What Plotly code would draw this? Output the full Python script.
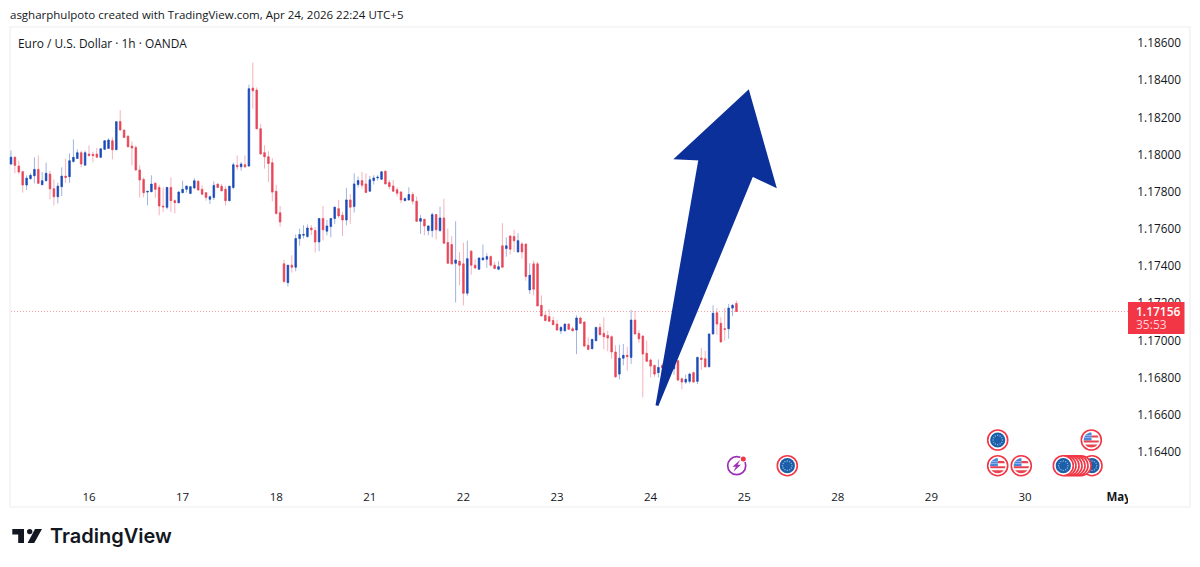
import math
import plotly.graph_objects as go

# Bars (EUR/USD, 1h, OANDA)
direction = ("BRRRBBBRBB" "RRBBRBBBRB" "RRRBBBRBRR" "RRRRRBBRRR" "BRRBBBBBRR"
             "RBBRRRBBRB" "RBRRRRRRRR" "RBRBBBBRRB" "RBBBRRBRBB" "RRBBBBRRRR"
             "RBBRRBRBBR" "BRRRBRRBRR" "BBBRRBRBRR" "BRRBRRRRRR" "RBBRRBRRRB"
             "BRRRRRBBRB" "RRRRRRBRRB" "BRRBBRBRRB" "BRRRBBR")

highs = [1.18021,1.17992,1.17967,1.17913,1.17888,1.17899,1.17985,1.17995,1.17906,1.17956,
 1.17913,1.17866,1.17848,1.17931,1.17977,1.18006,1.18081,1.18028,1.18021,1.18021,
 1.18049,1.18015,1.18035,1.18031,1.18078,1.18087,1.18092,1.18177,1.18239,1.18132,
 1.18103,1.18071,1.18049,1.17942,1.17877,1.17805,1.17888,1.17852,1.17838,1.17823,
 1.17827,1.17877,1.17759,1.17805,1.17859,1.17834,1.17830,1.17873,1.17863,1.17834,
 1.17798,1.17780,1.17856,1.17845,1.17841,1.17830,1.17830,1.17956,1.17995,1.17960,
 1.17995,1.18376,1.18494,1.18361,1.18164,1.18049,1.18017,1.17981,1.17838,1.17723,
 1.17433,1.17405,1.17458,1.17570,1.17602,1.17620,1.17623,1.17620,1.17609,1.17659,
 1.17724,1.17648,1.17659,1.17720,1.17756,1.17692,1.17821,1.17788,1.17899,1.17882,
 1.17907,1.17899,1.17885,1.17889,1.17889,1.17910,1.17914,1.17864,1.17864,1.17824,
 1.17803,1.17770,1.17824,1.17799,1.17774,1.17674,1.17652,1.17620,1.17688,1.17681,
 1.17720,1.17763,1.17602,1.17562,1.17641,1.17476,1.17527,1.17537,1.17487,1.17437,
 1.17444,1.17516,1.17469,1.17458,1.17423,1.17426,1.17631,1.17555,1.17566,1.17595,
 1.17577,1.17530,1.17519,1.17415,1.17430,1.17423,1.17243,1.17154,1.17168,1.17128,
 1.17110,1.17078,1.17092,1.17092,1.17074,1.17135,1.17128,1.17103,1.17017,1.17006,
 1.17074,1.17092,1.17124,1.17052,1.17027,1.16974,1.16977,1.16981,1.16966,1.17164,
 1.17160,1.17056,1.17027,1.16999,1.16902,1.16870,1.16898,1.16877,1.16859,1.16884,
 1.16895,1.16895,1.16801,1.16816,1.16827,1.16834,1.16913,1.16959,1.16945,1.17038,
 1.17189,1.17174,1.17124,1.17174,1.17196,1.17196,1.17214]

body_tops = [1.17986,1.17985,1.17938,1.17908,1.17873,1.17888,1.17920,1.17920,1.17859,1.17899,
 1.17895,1.17816,1.17830,1.17884,1.17884,1.17967,1.17985,1.18010,1.18010,1.18010,
 1.18003,1.18001,1.18003,1.18031,1.18074,1.18078,1.18074,1.18177,1.18178,1.18132,
 1.18099,1.18046,1.18038,1.17917,1.17866,1.17802,1.17841,1.17845,1.17823,1.17723,
 1.17823,1.17823,1.17752,1.17798,1.17813,1.17830,1.17827,1.17859,1.17856,1.17813,
 1.17795,1.17773,1.17834,1.17841,1.17830,1.17813,1.17830,1.17945,1.17942,1.17949,
 1.17945,1.18354,1.18358,1.18347,1.18139,1.18010,1.17988,1.17956,1.17802,1.17687,
 1.17412,1.17405,1.17405,1.17548,1.17570,1.17570,1.17605,1.17605,1.17591,1.17656,
 1.17656,1.17616,1.17656,1.17717,1.17709,1.17674,1.17756,1.17756,1.17842,1.17860,
 1.17860,1.17842,1.17864,1.17874,1.17878,1.17907,1.17910,1.17849,1.17831,1.17810,
 1.17799,1.17763,1.17785,1.17785,1.17749,1.17656,1.17652,1.17616,1.17677,1.17677,
 1.17659,1.17659,1.17527,1.17516,1.17433,1.17426,1.17412,1.17440,1.17480,1.17405,
 1.17444,1.17444,1.17451,1.17451,1.17405,1.17397,1.17509,1.17509,1.17562,1.17559,
 1.17537,1.17519,1.17519,1.17351,1.17412,1.17412,1.17189,1.17136,1.17128,1.17107,
 1.17088,1.17070,1.17088,1.17088,1.17063,1.17121,1.17121,1.17099,1.16974,1.17006,
 1.17070,1.17070,1.17038,1.17027,1.17020,1.16938,1.16905,1.16920,1.16920,1.17110,
 1.17110,1.17038,1.17024,1.16931,1.16895,1.16866,1.16855,1.16866,1.16855,1.16855,
 1.16873,1.16891,1.16794,1.16791,1.16819,1.16827,1.16909,1.16905,1.16902,1.17035,
 1.17146,1.17149,1.17092,1.17063,1.17174,1.17189,1.17199]

body_bottoms = [1.17949,1.17942,1.17906,1.17836,1.17836,1.17870,1.17886,1.17845,1.17838,1.17859,
 1.17816,1.17773,1.17773,1.17827,1.17877,1.17881,1.17963,1.17979,1.17949,1.17943,
 1.17995,1.17994,1.17986,1.17985,1.18028,1.18033,1.18026,1.18026,1.18132,1.18092,
 1.18042,1.18035,1.17917,1.17863,1.17795,1.17798,1.17800,1.17813,1.17723,1.17719,
 1.17716,1.17752,1.17741,1.17741,1.17795,1.17813,1.17791,1.17820,1.17809,1.17787,
 1.17769,1.17759,1.17769,1.17823,1.17805,1.17752,1.17752,1.17823,1.17934,1.17934,
 1.17934,1.17938,1.18343,1.18139,1.18003,1.17988,1.17952,1.17798,1.17683,1.17637,
 1.17317,1.17311,1.17394,1.17394,1.17548,1.17566,1.17559,1.17595,1.17530,1.17530,
 1.17595,1.17588,1.17613,1.17656,1.17670,1.17648,1.17648,1.17717,1.17720,1.17839,
 1.17835,1.17796,1.17803,1.17860,1.17874,1.17867,1.17842,1.17828,1.17803,1.17792,
 1.17756,1.17752,1.17756,1.17749,1.17641,1.17641,1.17616,1.17591,1.17591,1.17595,
 1.17591,1.17523,1.17415,1.17412,1.17415,1.17405,1.17254,1.17254,1.17405,1.17390,
 1.17383,1.17433,1.17437,1.17405,1.17387,1.17383,1.17394,1.17494,1.17491,1.17537,
 1.17476,1.17476,1.17344,1.17272,1.17276,1.17186,1.17132,1.17107,1.17103,1.17085,
 1.17056,1.17052,1.17052,1.17060,1.17052,1.17056,1.17092,1.16970,1.16952,1.16956,
 1.16999,1.17031,1.17020,1.17013,1.16938,1.16805,1.16819,1.16905,1.16913,1.16909,
 1.17035,1.17009,1.16927,1.16888,1.16862,1.16819,1.16827,1.16852,1.16827,1.16841,
 1.16848,1.16787,1.16776,1.16776,1.16780,1.16776,1.16780,1.16898,1.16859,1.16859,
 1.17035,1.17088,1.16992,1.17060,1.17063,1.17174,1.17156]

lows = [1.17943,1.17899,1.17895,1.17795,1.17809,1.17866,1.17845,1.17841,1.17834,1.17856,
 1.17759,1.17726,1.17737,1.17777,1.17848,1.17848,1.17956,1.17977,1.17931,1.17942,
 1.17988,1.17958,1.17983,1.17981,1.18024,1.18031,1.17974,1.18024,1.18128,1.18089,
 1.18038,1.17942,1.17913,1.17769,1.17769,1.17726,1.17798,1.17766,1.17673,1.17691,
 1.17705,1.17691,1.17683,1.17737,1.17791,1.17795,1.17787,1.17813,1.17805,1.17780,
 1.17752,1.17734,1.17755,1.17820,1.17802,1.17726,1.17748,1.17813,1.17917,1.17913,
 1.17927,1.17934,1.18246,1.18135,1.17999,1.17924,1.17852,1.17748,1.17676,1.17612,
 1.17308,1.17290,1.17365,1.17372,1.17509,1.17548,1.17552,1.17566,1.17473,1.17480,
 1.17537,1.17566,1.17555,1.17627,1.17659,1.17562,1.17620,1.17627,1.17688,1.17824,
 1.17817,1.17792,1.17799,1.17839,1.17860,1.17864,1.17839,1.17813,1.17799,1.17774,
 1.17738,1.17749,1.17752,1.17731,1.17638,1.17573,1.17566,1.17566,1.17555,1.17544,
 1.17584,1.17519,1.17412,1.17408,1.17204,1.17297,1.17189,1.17240,1.17354,1.17383,
 1.17380,1.17433,1.17390,1.17397,1.17383,1.17380,1.17390,1.17451,1.17462,1.17476,
 1.17473,1.17440,1.17322,1.17250,1.17243,1.17182,1.17128,1.17103,1.17100,1.17082,
 1.17052,1.17035,1.17049,1.17056,1.17049,1.16927,1.17088,1.16963,1.16948,1.16952,
 1.16995,1.17027,1.16952,1.16941,1.16902,1.16798,1.16791,1.16866,1.16837,1.16873,
 1.17031,1.16988,1.16694,1.16884,1.16801,1.16805,1.16801,1.16823,1.16816,1.16805,
 1.16816,1.16780,1.16737,1.16766,1.16769,1.16773,1.16766,1.16841,1.16852,1.16855,
 1.17031,1.17031,1.16988,1.16999,1.17009,1.17131,1.17153]

assert len(direction) == len(highs) == len(lows) == len(body_tops) == len(body_bottoms)

bars = list(range(len(highs)))
opens = [b if d == "B" else t for d, t, b in zip(direction, body_tops, body_bottoms)]
closes = [t if d == "B" else b for d, t, b in zip(direction, body_tops, body_bottoms)]

day_ticks = [20, 44, 68, 92, 116, 140, 164, 188, 212, 236, 260, 284]
day_labels = ["16", "17", "18", "21", "22", "23", "24", "25", "28", "29", "30", "<b>May</b>"]
price_ticks = [1.164, 1.166, 1.168, 1.170, 1.172, 1.174, 1.176, 1.178, 1.180, 1.182, 1.184, 1.186]
last_price = 1.17156

BLUE = "#1c4cb8"
RED = "#e6475a"
TAG = "#f23645"
TEXT = "#131722"
FONT = "Open Sans"

PL, PR, PT, PB = 8, 1128, 27, 484
def X(px): return (px - PL) / (PR - PL)
def Y(py): return (PB - py) / (PB - PT)

shapes = []
def rect(x0, y0, x1, y1, fill, line=None, lw=0, layer="above"):
    shapes.append(dict(type="rect", xref="paper", yref="paper", x0=X(x0), x1=X(x1), y0=Y(y0), y1=Y(y1),
                       fillcolor=fill, line=dict(color=line or fill, width=lw), layer=layer))
def circle(cx, cy, r, fill, line=None, lw=0):
    shapes.append(dict(type="circle", xref="paper", yref="paper", x0=X(cx - r), x1=X(cx + r), y0=Y(cy - r), y1=Y(cy + r),
                       fillcolor=fill, line=dict(color=line or fill, width=lw), layer="above"))
def poly(points, fill, line=None, lw=0):
    d = "M " + " L ".join(f"{X(a):.5f},{Y(b):.5f}" for a, b in points) + " Z"
    shapes.append(dict(type="path", xref="paper", yref="paper", path=d, fillcolor=fill,
                       line=dict(color=line or fill, width=lw), layer="above"))

def band(cx, cy, r, y1, y2, x_from=None, x_to=None):
    """Part of a disc between two heights, as a polygon."""
    pts_r, pts_l = [], []
    n = 5
    for k in range(n + 1):
        y = y1 + (y2 - y1) * k / n
        w = math.sqrt(max(r * r - y * y, 0))
        a = -w if x_from is None else max(-w, x_from)
        b = w if x_to is None else min(w, x_to)
        pts_l.append((cx + a, cy + y))
        pts_r.append((cx + b, cy + y))
    return pts_l + pts_r[::-1]

def eu_icon(cx, cy):
    circle(cx, cy, 10, "#ffffff", TAG, 1.6)
    circle(cx, cy, 7.6, "#1c5ea8")
    for k in range(12):
        a = k * math.pi / 6
        circle(cx + 4.7 * math.cos(a), cy + 4.7 * math.sin(a), 0.7, "#8dbbe6")

def us_icon(cx, cy):
    circle(cx, cy, 10, "#ffffff", TAG, 1.6)
    poly(band(cx, cy, 7.6, -7.4, 0.6, None, 0.2), "#4a86dc")
    for off in (-4.5, -2.5):
        poly(band(cx, cy, 7.6, off, off + 0.5, -7, 0.2), "#cfe0f7")
    poly(band(cx, cy, 7.6, -4.6, -2.4, 0.2, None), "#e8434f")
    poly(band(cx, cy, 7.6, 0.6, 2.6), "#e8434f")
    poly(band(cx, cy, 7.6, 4.6, 7.6), "#e8434f")

def bolt_icon(cx, cy):
    circle(cx, cy, 9, "#ffffff", "#9c2fb5", 1.7)
    poly([(cx + 3.6, cy - 6), (cx - 4.2, cy + 1), (cx - 0.8, cy + 1), (cx - 3.4, cy + 6),
          (cx + 4.2, cy - 1), (cx + 0.8, cy - 1)], "#9c2fb5")
    circle(cx + 6.6, cy - 6.6, 3.4, "#ffffff")
    circle(cx + 6.6, cy - 6.6, 2.5, TAG)

# panel frame and last-price line
rect(10, 27, 1190, 507, "rgba(0,0,0,0)", "#eceef2", 1.2, layer="below")
shapes.append(dict(type="line", xref="paper", yref="y", x0=X(11), x1=X(1128), y0=last_price, y1=last_price,
                   line=dict(color="#f6a0a8", width=1, dash="1px,2px"), layer="below"))

# hand-drawn arrow
poly([(748, 92), (677, 158), (700, 159), (657, 405.5), (752, 175), (774.5, 185.5)], "#0c3099", "#0c3099", 3)

# event icons
bolt_icon(736.7, 465.7)
eu_icon(787.3, 465.7)
eu_icon(997.7, 440)
us_icon(1091.3, 440)
us_icon(997.7, 465.7)
us_icon(1021.3, 465.7)
eu_icon(1092, 465.7)
for cx in (1081, 1078, 1075, 1072, 1069, 1066):
    us_icon(cx, 465.7)
eu_icon(1063.3, 465.7)

# price tag, clip for May
rect(1128, 484, 1136, 506, "#ffffff")
rect(1128, 302, 1184.5, 334, TAG)

# logo
poly([(12.3, 529), (24, 529), (24, 543), (18.2, 543), (18.2, 534.4), (12.3, 534.4)], "#131722")
circle(29.7, 531.6, 2.7, "#131722")
poly([(35, 529), (42, 529), (34.2, 543), (27.6, 543)], "#131722")

def label(px, py, text, size, color=TEXT, weight=None, family=FONT, anchor="left"):
    f = dict(family=family, size=size, color=color)
    if weight:
        f["weight"] = weight
    return dict(xref="paper", yref="paper", x=X(px), y=Y(py), text=text, showarrow=False,
                xanchor=anchor, yanchor="middle", font=f, borderpad=0, borderwidth=0)

annotations = [
    label(10, 15, "asgharphulpoto created with TradingView.com, Apr 24, 2026 22:24 UTC+5", 11.5),
    label(18, 42.5, "Euro / U.S. Dollar · 1h · OANDA", 11.9),
    label(1136, 311.5, "1.17156", 12, "#ffffff", 600),
    label(1136, 325, "35:53", 12, "#ffd0d5"),
    label(49.5, 536, "TradingView", 20, "#131722", 600, "Inter"),
]

fig = go.Figure()
fig.add_trace(go.Candlestick(
    x=bars, open=opens, high=highs, low=lows, close=closes, name="wicks",
    increasing=dict(line=dict(color="rgba(28,76,184,0.42)", width=1), fillcolor="rgba(28,76,184,0.42)"),
    decreasing=dict(line=dict(color="rgba(230,71,90,0.42)", width=1), fillcolor="rgba(230,71,90,0.42)"),
    hoverinfo="skip",
))
fig.add_trace(go.Candlestick(
    x=bars, open=opens, high=body_tops, low=body_bottoms, close=closes, name="bodies",
    increasing=dict(line=dict(color=BLUE, width=0.3), fillcolor=BLUE),
    decreasing=dict(line=dict(color=RED, width=0.3), fillcolor=RED),
    hoverinfo="skip",
))

fig.update_layout(
    width=1200, height=567, autosize=False,
    margin=dict(l=PL, r=1200 - PR, t=PT, b=567 - PB, pad=0),
    paper_bgcolor="#ffffff", plot_bgcolor="#ffffff",
    showlegend=False, hovermode=False, boxgap=0.4,
    font=dict(family=FONT, size=12, color=TEXT),
    shapes=shapes, annotations=annotations,
    xaxis=dict(range=[-0.77, 286.4], rangeslider=dict(visible=False), showgrid=False, zeroline=False,
               showline=False, tickmode="array", tickvals=day_ticks, ticktext=day_labels,
               ticks="outside", ticklen=2, tickcolor="rgba(0,0,0,0)", tickfont=dict(family=FONT, size=11.5, color=TEXT)),
    yaxis=dict(range=[1.16228, 1.18686], side="right", showgrid=False, zeroline=False, showline=False,
               tickmode="array", tickvals=price_ticks, ticktext=[f"{p:.5f}" for p in price_ticks],
               ticks="outside", ticklen=6, tickcolor="rgba(0,0,0,0)", tickfont=dict(family=FONT, size=11.8, color=TEXT)),
)

fig.write_html("out.html", config=dict(displayModeBar=False),
               post_script="document.body.style.margin='0';document.documentElement.style.overflow='hidden';")
